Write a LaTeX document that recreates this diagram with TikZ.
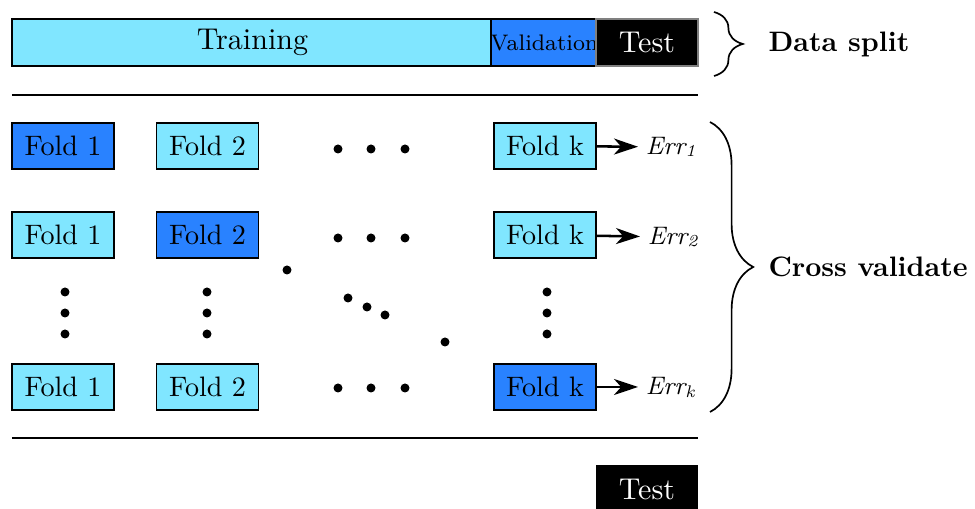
\documentclass[tikz,border=0pt]{standalone}
\usepackage{tikz}
\usetikzlibrary{shapes,arrows,arrows.meta,decorations.pathreplacing}
\definecolor{foldcyan}{RGB}{128,230,255}
\definecolor{foldblue}{RGB}{41,130,255}
\tikzstyle{fold} = [rectangle, draw, fill=foldcyan, minimum width=1.275cm,
    minimum height=0.575cm, inner sep=0pt, line width=0.7pt]
\tikzstyle{held} = [fold, fill=foldblue]
\tikzstyle{testbox} = [rectangle, fill=black, text=white, minimum width=1.275cm,
    minimum height=0.575cm, inner sep=0pt]
\tikzstyle{line} = [draw, -{Stealth[length=0.3cm, width=0.2cm, inset=0.09cm]}, line width=0.9pt]
\tikzstyle{err} = [anchor=west, inner ysep=0pt, inner xsep=0.09cm, font=\small\itshape]
\tikzstyle{curly} = [draw, line width=0.6pt, decorate]
\tikzstyle{side} = [anchor=west, inner sep=0pt, font=\bfseries]

\begin{document}
\begin{tikzpicture}[x=0.0125cm, y=-0.0125cm]
\useasboundingbox (0,0) rectangle (975,509);

% data split bar
\node [fold, minimum width=6.0125cm, minimum height=0.5875cm, font=\fontsize{10.7}{13}\selectfont] (train) at (252.5,42.5) {Training};
\node [held, minimum width=1.2875cm, minimum height=0.5875cm, font=\footnotesize] (valid) at (544.5,42.5) {Validation};
\node [testbox, minimum height=0.5875cm, draw=gray, font=\fontsize{10.7}{13}\selectfont] (test) at (647,42.5) {Test};

\draw [line width=0.6pt] (12,95) -- (698,95);

% first row
\node [held] (f11) at (63,146) {Fold 1};
\node [fold] (f12) at (207.5,146) {Fold 2};
\node [fold] (f1k) at (545,146) {Fold k};
\node [err] (e1) at (638,147) {Err\textsubscript{\textit{1}}};

% second row
\node [fold] (f21) at (63,235) {Fold 1};
\node [held] (f22) at (207.5,235) {Fold 2};
\node [fold] (f2k) at (545,235) {Fold k};
\node [err] (e2) at (640,237) {Err\textsubscript{\textit{2}}};

% last row
\node [fold] (fk1) at (63,387) {Fold 1};
\node [fold] (fk2) at (207.5,387) {Fold 2};
\node [held] (fkk) at (545,387) {Fold k};
\node [err] (ek) at (638,387) {Err\textsubscript{\textit{k}}};

\path [line] (f1k) -- (e1);
\path [line] (f2k) -- (e2);
\path [line] (fkk) -- (ek);

% dots
\foreach \y in {149,238,388}
  \foreach \x in {338,371,405}
    \fill (\x,\y) circle (1.6pt);
\foreach \x in {65,207,547}
  \foreach \y in {292,313,334}
    \fill (\x,\y) circle (1.6pt);
\foreach \x/\y in {287/270,348/298,367/307,385/315,445/342}
  \fill (\x,\y) circle (1.6pt);

\draw [line width=0.6pt] (12,438) -- (698,438);

\node [testbox, minimum height=0.6cm, font=\fontsize{10.7}{13}\selectfont] (final) at (647,489) {Test};

% braces
\draw [curly, decoration={brace, amplitude=0.36cm}] (714,12) -- (714,76);
\node [side] (split) at (768,44) {Data split};
\draw [curly, decoration={brace, amplitude=0.54cm}] (710,122) -- (710,412);
\node [side] (cross) at (768,267) {Cross validate};
\end{tikzpicture}
\end{document}
